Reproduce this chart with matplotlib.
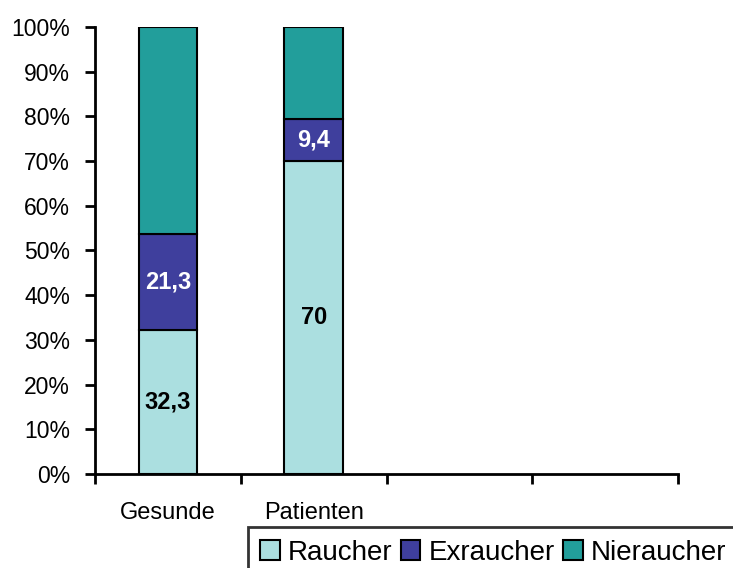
import matplotlib.pyplot as plt
import numpy as np

plt.rcParams['font.family'] = ['Liberation Sans', 'DejaVu Sans']

groups = ['Gesunde', 'Patienten', '', '']
raucher = [32.3, 70.0]
exraucher = [21.3, 9.4]
nieraucher = [46.4, 20.6]
raucher_lbl = ['32,3', '70']
exraucher_lbl = ['21,3', '9,4']
colors = ['#abdfe0', '#3f3f9d', '#229e9b']
names = ['Raucher', 'Exraucher', 'Nieraucher']

fig = plt.figure(figsize=(7.33, 5.68), dpi=100)
ax = fig.add_axes([0.1296, 0.1655, 0.7954, 0.787])

x = np.arange(len(raucher))
w = 0.40
bottom = np.zeros(len(raucher))
bars = []
for vals, c, n in zip([raucher, exraucher, nieraucher], colors, names):
    b = ax.bar(x, vals, w, bottom=bottom, color=c, edgecolor='black', linewidth=1.5, label=n)
    bars.append(b)
    bottom += np.array(vals)

# value labels inside the segments
for i in range(len(raucher)):
    ax.text(x[i], raucher[i] / 2, raucher_lbl[i],
            ha='center', va='center', fontsize=17, fontweight='bold', color='black')
    ax.text(x[i], raucher[i] + exraucher[i] / 2, exraucher_lbl[i],
            ha='center', va='center', fontsize=17, fontweight='bold', color='white')

ax.set_xlim(-0.5, 3.5)
ax.set_ylim(0, 100)
ax.set_yticks(range(0, 101, 10))
ax.set_yticklabels([f'{v}%' for v in range(0, 101, 10)], fontsize=16.5)
ax.set_xticks(np.arange(-0.5, 4, 1))
ax.set_xticklabels([])
ax.set_xticks(np.arange(4), labels=groups, minor=True)
ax.tick_params(axis='x', which='minor', length=0, labelsize=17, pad=20)
ax.tick_params(axis='x', which='major', direction='out', length=7, width=2)
ax.tick_params(axis='y', direction='out', length=7, width=2, pad=11)
for s in ['top', 'right']:
    ax.spines[s].set_visible(False)
for s in ['left', 'bottom']:
    ax.spines[s].set_linewidth(2)

leg = fig.legend(handles=bars, labels=names, loc='upper left', bbox_to_anchor=(0.338, 0.072),
                 ncol=3, fontsize=20, frameon=True, fancybox=False, edgecolor='black',
                 handlelength=0.7, handleheight=0.7, handletextpad=0.3, columnspacing=0.3,
                 borderpad=0.45, borderaxespad=0)
leg.get_frame().set_linewidth(2)

fig.savefig('out.png', dpi=100)
